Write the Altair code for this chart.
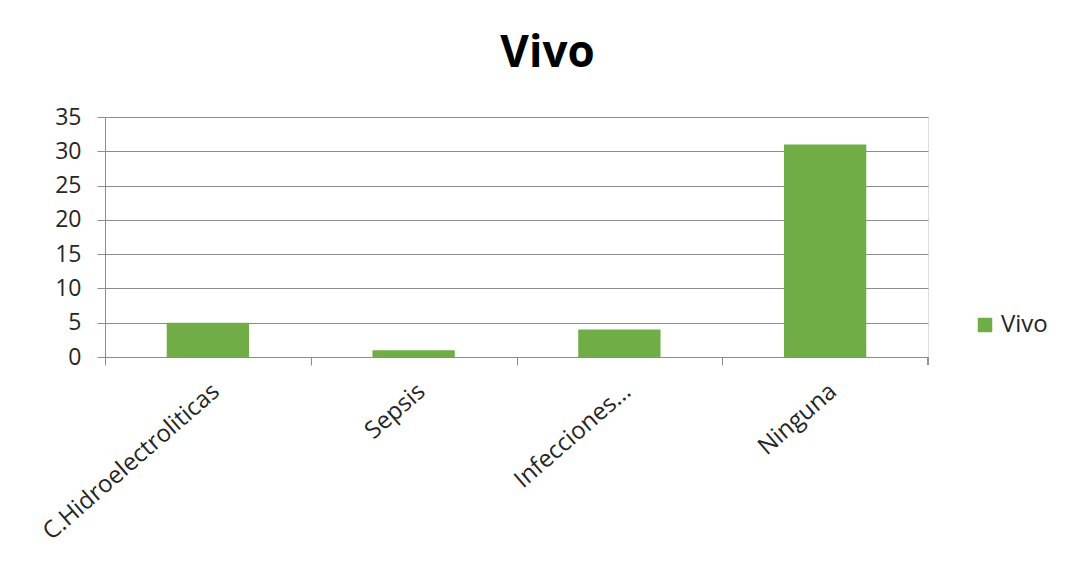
import altair as alt
import pandas as pd

categories = ["C.Hidroelectroliticas", "Sepsis", "Infecciones...", "Ninguna"]
values = [5, 1, 4, 31]
series = ["Vivo", "Vivo", "Vivo", "Vivo"]

df = pd.DataFrame({"cat": categories, "val": values, "serie": series})

W, H = 823, 240
step = W / 4.0
FONT = "Open Sans"
GRID = "#8c8c8c"

bars = alt.Chart(df).mark_bar(color="#70AD47").encode(
    x=alt.X("cat:N", sort=categories, title=None,
            scale=alt.Scale(paddingInner=0.6, paddingOuter=0.3),
            axis=alt.Axis(labelAngle=-41, labelFontSize=24, labelFont=FONT,
                          labelColor="#262626", labelPadding=14, labelLimit=400,
                          tickOffset=-step / 2, labelOffset=step / 2,
                          tickSize=8, tickColor=GRID,
                          domainColor=GRID, labelAlign="right", labelBaseline="top")),
    y=alt.Y("val:Q", title=None,
            scale=alt.Scale(domain=[0, 35]),
            axis=alt.Axis(values=[0, 5, 10, 15, 20, 25, 30, 35], labelFontSize=23,
                          labelFont=FONT, labelColor="#262626", labelPadding=16,
                          tickSize=8, tickColor=GRID, gridColor=GRID,
                          domainColor=GRID, gridOpacity=1)),
    color=alt.Color("serie:N", scale=alt.Scale(range=["#70AD47"]),
                    legend=alt.Legend(title=None, orient="none", legendX=868, legendY=196,
                                      symbolType="square", symbolSize=210,
                                      labelFontSize=24, labelFont=FONT,
                                      labelColor="#262626", symbolStrokeWidth=0)),
)

edge = alt.Chart(df).mark_rule(color=GRID).encode(
    x=alt.value(W), y=alt.value(H), y2=alt.value(H + 8)
)

chart = (bars + edge).properties(
    width=W, height=H,
    title=alt.TitleParams("Vivo", fontSize=44, font=FONT, fontWeight="bold",
                          color="#000000", anchor="middle", dx=31, offset=30),
    autosize=alt.AutoSizeParams(type="none"),
    padding={"left": 105, "top": 117, "right": 144, "bottom": 210},
).configure_view(stroke=None).configure(background="white")

chart.save("out.html", embed_options={"renderer": "svg", "actions": False})
